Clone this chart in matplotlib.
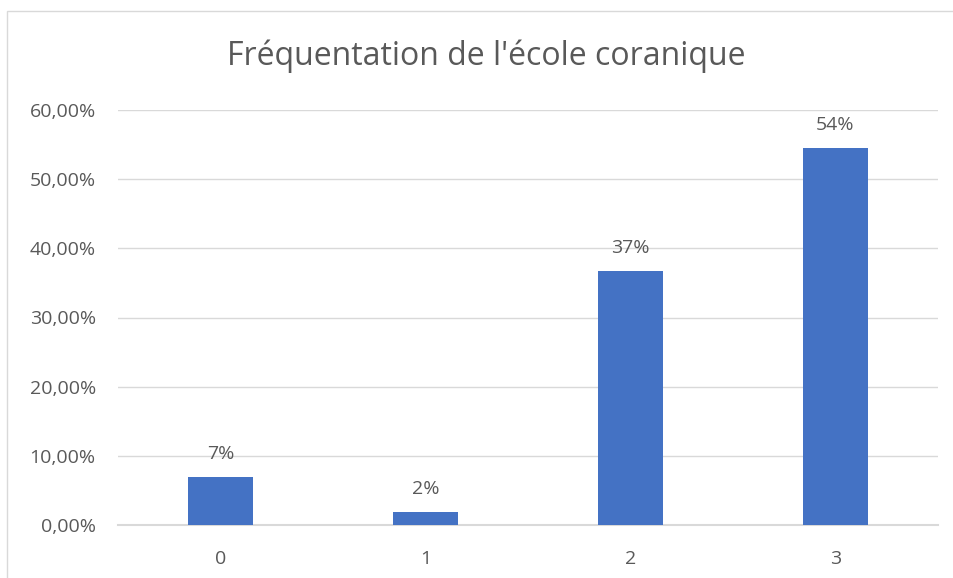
import matplotlib.pyplot as plt
from matplotlib.patches import Rectangle
from matplotlib.ticker import FuncFormatter

# data
categories = ['0', '1', '2', '3']
values = [0.069, 0.019, 0.367, 0.545]
labels = ['7%', '2%', '37%', '54%']

plt.rcParams['font.family'] = ['Open Sans', 'DejaVu Sans']
txt = '#595959'

fig = plt.figure(figsize=(9.54, 5.78), dpi=100)
ax = fig.add_axes([118/954, 53/578, 820/954, 415/578])

x = range(len(categories))
bars = ax.bar(x, values, width=0.317, color='#4472C4', zorder=3)
for b, lab in zip(bars, labels):
    ax.annotate(lab, (b.get_x() + b.get_width()/2, b.get_height()),
                xytext=(0, 10), textcoords='offset points',
                ha='center', va='bottom', fontsize=14, color=txt)

ax.set_xlim(-0.5, 3.5)
ax.set_ylim(0, 0.6)
ax.set_yticks([0, 0.1, 0.2, 0.3, 0.4, 0.5, 0.6])
ax.yaxis.set_major_formatter(FuncFormatter(lambda v, p: f'{v*100:.2f}%'.replace('.', ',')))
ax.set_xticks(list(x))
ax.set_xticklabels(categories)
ax.tick_params(length=0, labelsize=14, colors=txt)
ax.tick_params(axis='y', pad=16)
ax.tick_params(axis='x', pad=18)
ax.grid(axis='y', color='#D9D9D9', lw=1, zorder=0)
ax.axhline(0, color='#D9D9D9', lw=1.5, zorder=2, clip_on=False)
for s in ax.spines.values():
    s.set_visible(False)

fig.text(486/954, 1 - 56/578, "Fréquentation de l'école coranique",
         ha='center', va='center', fontsize=23, color=txt)

# chart border
fig.patches.append(Rectangle((7/954, -0.1), 1.2, 1 - 11/578 + 0.1,
                             transform=fig.transFigure, fill=False,
                             ec='#D9D9D9', lw=1))

fig.savefig('out.png', dpi=100)
